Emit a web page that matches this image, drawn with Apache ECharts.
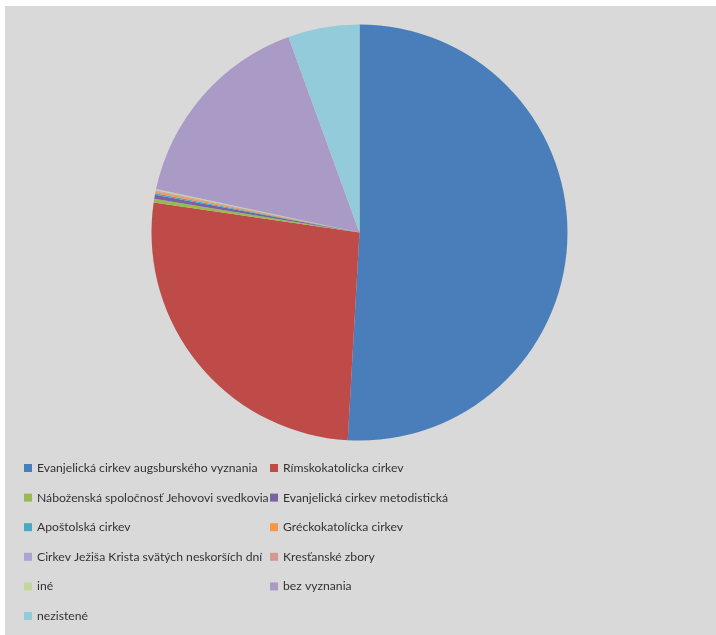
<!DOCTYPE html>
<html><head><meta charset="utf-8">
<script src="https://cdn.jsdelivr.net/npm/echarts@6/dist/echarts.min.js"></script>
<style>html,body{margin:0;padding:0;background:#fff}#c{width:716px;height:635px}</style>
</head><body><div id="c"></div>
<script>
const categories = [
  'Evanjelická cirkev augsburského vyznania',
  'Rímskokatolícka cirkev',
  'Náboženská spoločnosť Jehovovi svedkovia',
  'Evanjelická cirkev metodistická',
  'Apoštolská cirkev',
  'Gréckokatolícka cirkev',
  'Cirkev Ježiša Krista svätých neskorších dní',
  'Kresťanské zbory',
  'iné',
  'bez vyznania',
  'nezistené'
];
const values = [50.9, 26.4, 0.3, 0.3, 0.12, 0.13, 0.05, 0.05, 0.1, 16.1, 5.55];
const colors = ['#4A7EBB','#BE4B48','#98B954','#7D60A0','#46AAC5','#F79646','#A9A4D6','#D99694','#C3D69B','#A99BC6','#93CBDB'];

const chart = echarts.init(document.getElementById('c'), null, {renderer:'canvas'});
const data = categories.map((n,i)=>({name:n, value:values[i], itemStyle:{color:colors[i]}}));
const leftCol = categories.filter((_,i)=>i%2===0);
const rightCol = categories.filter((_,i)=>i%2===1);
const legendBase = {
  orient:'vertical', top:455, itemWidth:8, itemHeight:8, icon:'rect',
  itemGap:13.6, selectedMode:false,
  textStyle:{fontFamily:'Lato', fontSize:12.2, color:'#333', lineHeight:16}
};
chart.setOption({
  animation:false,
  backgroundColor:'#fff',
  graphic:[{type:'rect', shape:{x:5,y:6,width:711,height:629}, style:{fill:'#d9d9d9'}, z:-10, silent:true}],
  legend:[
    Object.assign({}, legendBase, {left:19, data:leftCol}),
    Object.assign({}, legendBase, {left:265, data:rightCol})
  ],
  series:[{
    type:'pie', center:[359.5,232.5], radius:[0,208], startAngle:90, clockwise:true,
    label:{show:false}, labelLine:{show:false}, itemStyle:{borderWidth:0},
    emphasis:{disabled:true},
    data:data
  }]
});
</script></body></html>
